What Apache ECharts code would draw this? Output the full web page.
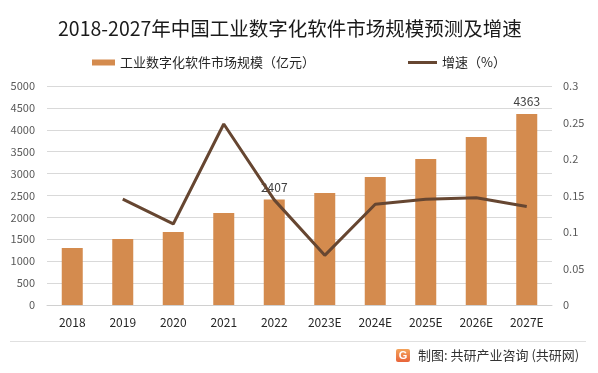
<!DOCTYPE html>
<html>
<head>
<meta charset="utf-8">
<script src="https://cdn.jsdelivr.net/npm/echarts@6/dist/echarts.min.js"></script>
<style>
html,body{margin:0;padding:0;background:#fff;}
#c{width:598px;height:373px;}
</style>
</head>
<body>
<div id="c"></div>
<script>
const categories = ['2018','2019','2020','2021','2022','2023E','2024E','2025E','2026E','2027E'];
const marketSize = [1300, 1507, 1667, 2100, 2407, 2557, 2922, 3333, 3836, 4363];
const growth = [null, 0.145, 0.111, 0.248, 0.144, 0.068, 0.138, 0.145, 0.147, 0.135];
const labeledYears = ['2022', '2027E'];
const leftTicks = {min: 0, max: 5000, interval: 500};
const rightTicks = {min: 0, max: 0.3, interval: 0.05};
const barName = '工业数字化软件市场规模（亿元）';
const lineName = '增速（%）';

const font = '"Noto Sans CJK SC", "Noto Sans", sans-serif';
const barColor = '#D48B4E';
const lineColor = '#664631';

const chart = echarts.init(document.getElementById('c'));
chart.setOption({
  animation: false,
  textStyle: {fontFamily: font},
  title: {
    text: '2018-2027年中国工业数字化软件市场规模预测及增速',
    left: 53, top: 14,
    textStyle: {fontSize: 19.5, fontWeight: 'normal', color: '#1a1a1a', fontFamily: font}
  },
  legend: [
    {
      data: [{name: barName, icon: 'rect'}],
      left: 87, top: 51,
      itemWidth: 23, itemHeight: 6, itemGap: 4,
      textStyle: {fontSize: 13, color: '#262626', fontFamily: font}
    },
    {
      data: [{name: lineName, icon: 'rect'}],
      left: 403, top: 51,
      itemWidth: 29, itemHeight: 3, itemGap: 2,
      textStyle: {fontSize: 13, color: '#262626', fontFamily: font}
    }
  ],
  grid: {left: 47, right: 46, top: 86, bottom: 68, containLabel: false},
  xAxis: {
    type: 'category',
    data: categories,
    axisLine: {lineStyle: {color: '#d0d0d0'}},
    axisTick: {show: false},
    axisLabel: {fontSize: 12, color: '#262626', margin: 11, fontFamily: font}
  },
  yAxis: [
    {
      type: 'value', min: leftTicks.min, max: leftTicks.max, interval: leftTicks.interval,
      axisLine: {show: false}, axisTick: {show: false},
      splitLine: {lineStyle: {color: '#d9d9d9'}},
      axisLabel: {fontSize: 11, color: '#595959', margin: 12, fontFamily: font,
        formatter: v => String(v)}
    },
    {
      type: 'value', min: rightTicks.min, max: rightTicks.max, interval: rightTicks.interval,
      axisLine: {show: false}, axisTick: {show: false},
      splitLine: {show: false},
      axisLabel: {fontSize: 11, color: '#595959', margin: 11, fontFamily: font,
        formatter: v => String(Math.round(v * 100) / 100)}
    }
  ],
  series: [
    {
      name: barName, type: 'bar', barWidth: 21,
      itemStyle: {color: barColor},
      data: marketSize.map((v, i) => ({
        value: v,
        label: {show: labeledYears.includes(categories[i]), position: 'top', distance: 6,
          fontSize: 12, color: '#404040', fontFamily: font}
      }))
    },
    {
      name: lineName, type: 'line', yAxisIndex: 1,
      showSymbol: false, symbol: 'none',
      lineStyle: {color: lineColor, width: 3},
      itemStyle: {color: lineColor},
      data: growth
    }
  ],
  graphic: [
    {type: 'line', shape: {x1: 10, y1: 341.5, x2: 586, y2: 341.5}, style: {stroke: '#e0e0e0', lineWidth: 1}},
    {type: 'rect', shape: {x: 396, y: 349, width: 14, height: 13, r: 2},
      style: {fill: new echarts.graphic.LinearGradient(0, 0, 0, 1, [{offset: 0, color: '#f4a35a'}, {offset: 1, color: '#e8643a'}])}},
    {type: 'text', x: 403, y: 355.5, style: {text: 'G', fill: '#fff', font: 'bold 11px sans-serif', align: 'center', verticalAlign: 'middle'}},
    {type: 'text', x: 418, y: 355.5, style: {text: '制图: 共研产业咨询 (共研网)', fill: '#333', font: '13px "Noto Sans CJK SC", sans-serif', verticalAlign: 'middle'}}
  ]
});
</script>
</body>
</html>
